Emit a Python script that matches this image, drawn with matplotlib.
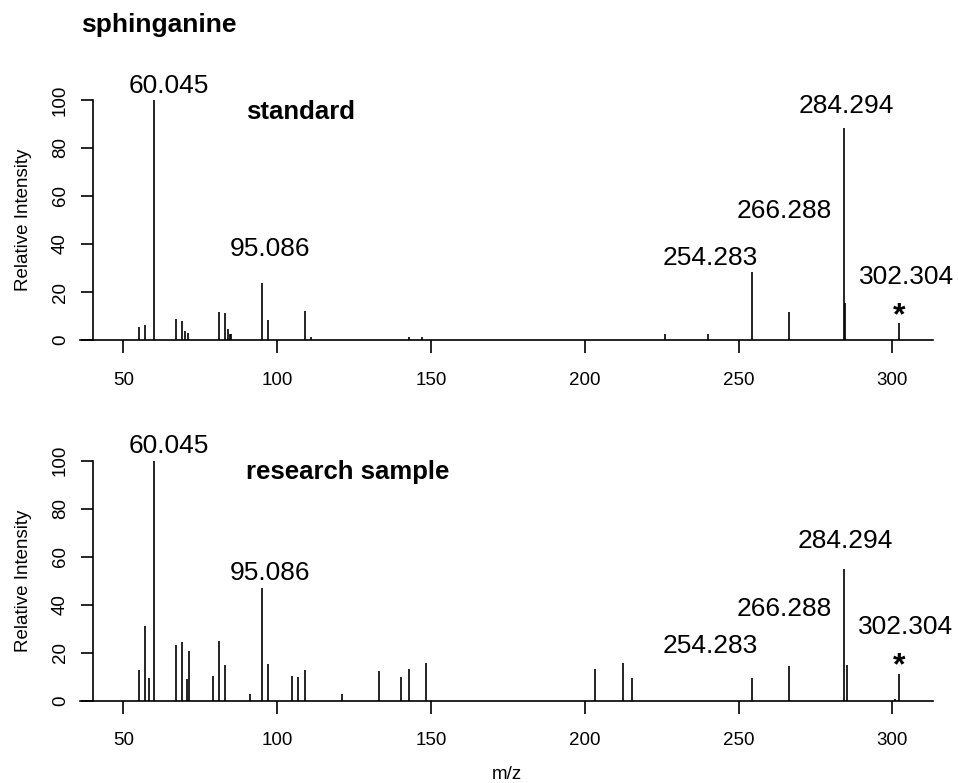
import matplotlib
matplotlib.use("Agg")
import matplotlib.pyplot as plt

plt.rcParams['font.family'] = ['Liberation Sans', 'DejaVu Sans']

# fragment spectra, m/z and relative intensity (%)
std_mz = [55.1, 57.1, 60.045, 67.1, 69.1, 70.1, 71.0, 81.07, 83.0, 83.9, 84.6, 85.1,
          95.086, 97.0, 109.0, 110.9, 142.9, 147.1, 226.2, 240.1,
          254.283, 266.288, 284.294, 284.7, 302.304]
std_int = [5.5, 6.1, 100, 8.6, 8.1, 3.8, 2.9, 11.5, 11.4, 4.4, 2.6, 2.6,
           23.6, 8.3, 12.2, 1.4, 1.4, 1.4, 2.5, 2.5,
           28.2, 11.5, 88.2, 15.5, 7.1]

smp_mz = [55.1, 57.1, 58.2, 60.045, 67.1, 69.1, 70.6, 71.2, 79.0, 81.0, 83.1, 91.1,
          95.086, 97.0, 104.9, 106.9, 109.0, 121.0, 133.0, 140.4, 142.9, 148.4,
          203.25, 212.35, 215.2, 254.283, 266.288, 284.294, 285.2, 301.0, 302.304]
smp_int = [12.9, 31.0, 9.2, 100, 23.2, 24.2, 9.0, 20.8, 10.1, 24.7, 15.0, 2.6,
           47.0, 15.1, 10.4, 9.8, 12.7, 2.9, 12.4, 9.6, 13.2, 15.7,
           13.0, 15.6, 9.4, 9.4, 14.3, 54.8, 15.0, 0.8, 11.0]

# annotated peaks
peak_labels = [60.045, 95.086, 254.283, 266.288, 284.294, 302.304]
precursor = 302.304

# label anchors (x, y) per panel, keyed by peak
std_pos = {60.045: (64.7, 106), 95.086: (97.6, 37.9), 254.283: (240.9, 34.3),
           266.288: (264.9, 53.9), 284.294: (284.9, 97.5), 302.304: (304.5, 26.1)}
smp_pos = {60.045: (64.7, 106), 95.086: (97.6, 53.2), 254.283: (240.7, 22.8),
           266.288: (264.7, 38.0), 284.294: (284.6, 66.4), 302.304: (304.4, 30.7)}
star_y = {'standard': 10.0, 'research sample': 14.2}

W, H = 958, 783
YTOP = 115
fig = plt.figure(figsize=(W / 100, H / 100), dpi=100)


def spectrum(ax, mz, inten, name, pos):
    ax.vlines(mz, 0, inten, colors='black', lw=1.2)
    ax.set_xlim(35.9, 313.2)
    ax.set_ylim(0, YTOP)

    for s in ['top', 'right']:
        ax.spines[s].set_visible(False)
    ax.spines['left'].set_position(('data', 40))
    ax.spines['left'].set_bounds(0, 100)
    for s in ['left', 'bottom']:
        ax.spines[s].set_linewidth(1.2)

    ax.set_xticks([50, 100, 150, 200, 250, 300])
    ax.set_yticks([0, 20, 40, 60, 80, 100])
    ax.tick_params(direction='out', length=9, width=1.2, labelsize=13.5)
    ax.tick_params(axis='x', pad=14)
    ax.tick_params(axis='y', pad=8, labelrotation=90)
    for lbl in ax.get_yticklabels():
        lbl.set_va('center')
    # y label centred on the 0-100 span, not the whole axes
    ax.set_ylabel('Relative Intensity', fontsize=13.5)
    ax.yaxis.set_label_coords(-0.0565, 50 / YTOP)
    ax.patch.set_visible(False)

    for p in peak_labels:
        x, y = pos[p]
        ax.text(x, y, f"{p:.3f}", fontsize=19, ha='center', va='center', clip_on=False)
    ax.text(precursor, star_y[name], '*', fontsize=23, fontweight='bold',
            ha='center', va='center')
    ax.text(90, 95, name, fontsize=18.5, fontweight='bold', ha='left', va='center')


ax1 = fig.add_axes([80 / W, (H - 340) / H, 853 / W, 276 / H])
spectrum(ax1, std_mz, std_int, 'standard', std_pos)

ax2 = fig.add_axes([80 / W, (H - 700.5) / H, 853 / W, 276 / H])
spectrum(ax2, smp_mz, smp_int, 'research sample', smp_pos)
ax2.set_xlabel('m/z', fontsize=13.5, labelpad=12)

fig.text(81 / W, 1 - 25 / H, 'sphinganine', fontsize=19, fontweight='bold',
         ha='left', va='center')

fig.savefig('out.png', dpi=100)
